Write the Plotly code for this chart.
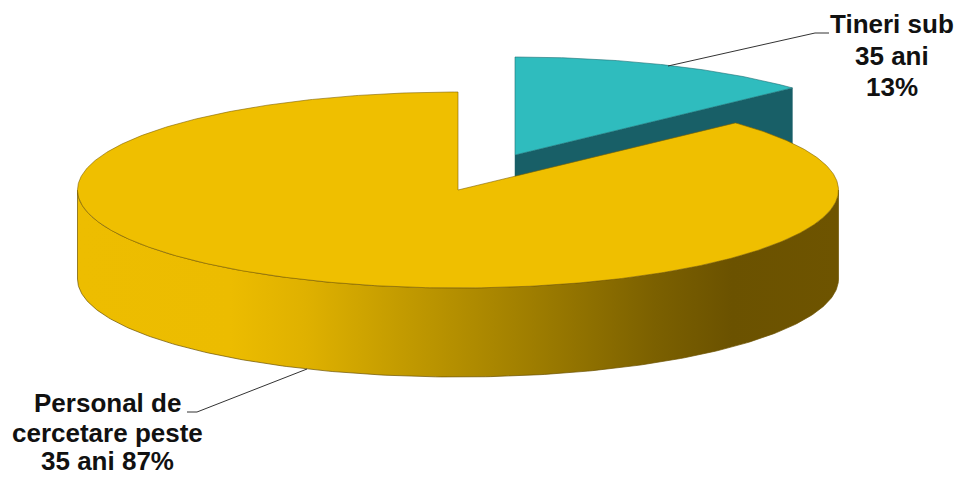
import numpy as np
import plotly.graph_objects as go

# Share of research staff by age group, in percent
categories = ["Tineri sub 35 ani", "Personal de cercetare peste 35 ani"]
shares = [13, 87]
label_lines = [["Tineri sub", "35 ani", "13%"], ["Personal de", "cercetare peste", "35 ani 87%"]]

# Disc geometry on a pixel-like plotting plane (y grows downwards)
CX, CY = 458, 190
RX, RY = 380.5, 98
DEPTH = 89
EXPLODE_X, EXPLODE_Y = 57, -35

TEAL_TOP, TEAL_SIDE = "#2FBCBE", "#185F67"
YELLOW_TOP = "#EFBF00"
SIDE_STOPS = [
    (0.00, "#EDBD00"), (0.20, "#ECBC00"), (0.30, "#DFB100"), (0.42, "#C49C00"),
    (0.60, "#9E7D00"), (0.76, "#7B6000"), (0.86, "#6B5200"), (1.00, "#6E5400"),
]


def rim(deg_from, deg_to, cx=CX, cy=CY, n=240):
    t = np.radians(np.linspace(deg_from, deg_to, n))
    return cx + RX * np.cos(t), cy - RY * np.sin(t)


# Slices run clockwise from twelve o'clock
split = 90 - 360 * shares[0] / sum(shares)
fig = go.Figure()

# Exploded slice: cut face first, then its top
tx, ty = CX + EXPLODE_X, CY + EXPLODE_Y
ex, ey = rim(90, split, tx, ty)
fig.add_trace(go.Scatter(
    x=[tx, ex[-1], ex[-1], tx, tx], y=[ty, ey[-1], ey[-1] + DEPTH, ty + DEPTH, ty],
    mode="lines", fill="toself", fillcolor=TEAL_SIDE, line=dict(color=TEAL_SIDE, width=0.5),
    hoverinfo="skip", showlegend=False))
fig.add_trace(go.Scatter(
    x=np.r_[tx, ex, tx], y=np.r_[ty, ey, ty],
    mode="lines", fill="toself", fillcolor=TEAL_TOP, line=dict(color="#1C6F74", width=0.6),
    hoverinfo="skip", showlegend=False))

# Large slice: curved wall with a left-to-right shade, then the top
wx, wy = rim(180, 360)
fig.add_trace(go.Scatter(
    x=np.r_[wx, wx[::-1], wx[0]], y=np.r_[wy + DEPTH, wy[::-1], wy[0] + DEPTH],
    mode="lines", line=dict(color="#6B5200", width=0.7),
    fill="toself",
    fillgradient=dict(type="horizontal", colorscale=[list(s) for s in SIDE_STOPS],
                      start=CX - RX, stop=CX + RX),
    hoverinfo="skip", showlegend=False))
yx, yy = rim(split, -270, n=600)
fig.add_trace(go.Scatter(
    x=np.r_[CX, yx, CX], y=np.r_[CY, yy, CY],
    mode="lines", fill="toself", fillcolor=YELLOW_TOP, line=dict(color="#7F6200", width=0.6),
    hoverinfo="skip", showlegend=False))

# Leader lines from each slice to its label
for lx, ly in (([668, 815, 829], [66, 33, 33]), ([307, 197, 187], [369, 412, 412])):
    fig.add_trace(go.Scatter(x=lx, y=ly, mode="lines", line=dict(color="#333333", width=1),
                             hoverinfo="skip", showlegend=False))

# Data labels
positions = [(892, [24, 56, 87]), (107, [403, 433, 461])]
for lines, (x, ys) in zip(label_lines, positions):
    for line, y in zip(lines, ys):
        fig.add_annotation(x=x, y=y, text=f"<b>{line}</b>", showarrow=False,
                           xanchor="center", yanchor="middle",
                           font=dict(family="Liberation Sans", size=26, color="#111111"))

fig.update_layout(
    width=959, height=477, margin=dict(l=0, r=0, t=0, b=0),
    paper_bgcolor="white", plot_bgcolor="white", showlegend=False,
    xaxis=dict(range=[0, 959], visible=False, fixedrange=True),
    yaxis=dict(range=[477, 0], visible=False, fixedrange=True),
)
fig.write_html("out.html", config={"displayModeBar": False})
